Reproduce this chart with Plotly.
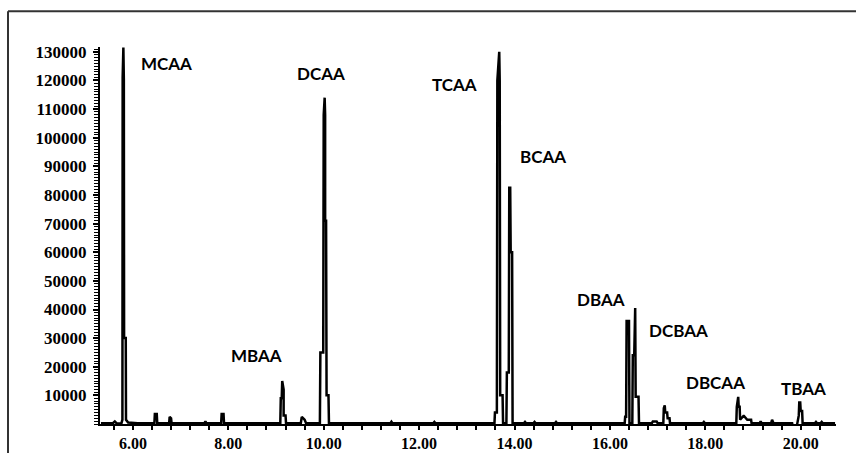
import plotly.graph_objects as go

# Retention time (min) and abundance of the chromatogram trace
time_min = [
    5.33, 5.45, 5.58, 5.62, 5.66, 5.76, 5.78, 5.785, 5.80, 5.81, 5.815, 5.85, 5.855, 5.90,
    6.10, 6.45, 6.46, 6.50, 6.51, 6.76, 6.77, 6.80, 6.81, 7.50, 7.52, 7.54,
    7.85, 7.86, 7.90, 7.91, 9.09, 9.10, 9.12, 9.13, 9.15, 9.16, 9.16, 9.20, 9.21,
    9.52, 9.54, 9.60, 9.63, 9.92, 9.93, 9.99, 10.00, 10.02, 10.03, 10.03, 10.05,
    10.06, 10.10, 10.11, 11.40, 11.42, 11.44, 12.30, 12.32, 12.34,
    13.58, 13.59, 13.63, 13.64, 13.68, 13.69, 13.70, 13.75, 13.76,
    13.83, 13.84, 13.88, 13.89, 13.91, 13.92, 13.95, 13.96, 14.20, 14.22, 14.24, 14.40, 14.42, 14.44,
    14.85, 14.87, 14.89, 16.31, 16.32, 16.34, 16.35, 16.40, 16.41,
    16.47, 16.48, 16.51, 16.53, 16.54, 16.60, 16.61, 16.88, 16.90, 16.98, 17.00,
    17.12, 17.13, 17.15, 17.16, 17.20, 17.21, 17.25, 17.26, 17.95, 17.97, 17.99,
    18.65, 18.66, 18.69, 18.70, 18.72, 18.73, 18.80, 18.81, 18.88, 18.89, 18.96, 18.97,
    19.14, 19.16, 19.18, 19.38, 19.40, 19.43, 19.82, 19.83, 19.92, 19.93,
    19.96, 19.97, 19.99, 20.00, 20.03, 20.04, 20.30, 20.32, 20.34, 20.42, 20.44, 20.46, 20.72,
]
abundance = [
    300, 200, 300, 900, 200, 300, 1500, 121000, 131500, 120500, 30000, 30000, 1500, 500,
    300, 300, 3500, 3500, 300, 300, 2500, 2000, 300, 300, 900, 300,
    300, 3500, 3500, 300, 300, 9000, 9000, 15000, 12000, 12000, 3000, 3000, 300,
    300, 2500, 1500, 300, 300, 25000, 25000, 108000, 114000, 108000, 71000, 71000,
    10000, 10000, 300, 300, 800, 300, 300, 700, 300,
    300, 4000, 4000, 120000, 130000, 120000, 10000, 10000, 300,
    300, 18000, 18000, 82500, 82500, 60000, 60000, 300, 300, 700, 300, 300, 700, 300,
    300, 700, 300, 300, 2500, 2500, 36000, 36000, 300,
    300, 24000, 24000, 40500, 9500, 9500, 300, 300, 900, 900, 300,
    300, 5500, 6500, 4000, 4000, 2000, 2000, 300, 300, 700, 300,
    300, 6000, 9500, 6000, 6000, 1500, 2800, 2800, 1500, 1500, 1500, 300,
    300, 900, 300, 300, 1500, 300, 300, -600, -600, 300,
    3000, 7500, 7500, 4500, 4500, 300, 300, 700, 300, 300, 700, 300, 300,
]

# Peak labels
peak_names = ["MCAA", "DCAA", "TCAA", "BCAA", "MBAA", "DBAA", "DCBAA", "DBCAA", "TBAA"]
label_time = [6.71, 9.94, 12.75, 14.60, 8.60, 15.81, 17.43, 18.22, 20.05]
label_abund = [126000, 122500, 118500, 93500, 24000, 43500, 32500, 14500, 12300]

# Axis ticks
y_tick_vals = [10000, 20000, 30000, 40000, 50000, 60000, 70000, 80000, 90000,
               100000, 110000, 120000, 130000]
x_tick_vals = [6, 8, 10, 12, 14, 16, 18, 20]

LABEL_FONT = "Lato"
TICK_FONT = "Liberation Serif"

fig = go.Figure()
fig.add_trace(go.Scatter(
    x=time_min, y=abundance, mode="lines",
    line=dict(color="black", width=2.5),
    hoverinfo="x+y", showlegend=False,
))

for name, t, a in zip(peak_names, label_time, label_abund):
    fig.add_annotation(
        x=t, y=a, text=name, showarrow=False,
        font=dict(family=LABEL_FONT, size=17, color="black", weight="bold"),
        xanchor="center", yanchor="middle",
    )

# Outer frame (top and left edges)
fig.add_shape(type="line", xref="paper", yref="paper",
              x0=-0.125, x1=1.03, y0=1.095, y1=1.095,
              line=dict(color="#333333", width=2))
fig.add_shape(type="line", xref="paper", yref="paper",
              x0=-0.125, x1=-0.125, y0=1.095, y1=-0.08,
              line=dict(color="#333333", width=2))

fig.update_layout(
    width=856, height=453,
    margin=dict(l=100, r=20, t=47, b=29),
    paper_bgcolor="white", plot_bgcolor="white",
    xaxis=dict(
        range=[5.31, 20.74], automargin=False,
        tickvals=x_tick_vals, tickformat=".2f",
        ticks="outside", ticklen=4, tickwidth=1.5, tickcolor="black",
        ticklabelstandoff=0,
        showline=True, linecolor="black", linewidth=2,
        showgrid=False, zeroline=False,
        tickfont=dict(family=TICK_FONT, size=16, color="black", weight="bold"),
        minor=dict(dtick=0.4, tick0=6, ticks="outside", ticklen=4,
                   tickwidth=1.5, tickcolor="black"),
    ),
    yaxis=dict(
        range=[0, 131700], automargin=False,
        tickvals=y_tick_vals, tickformat="d",
        ticks="outside", ticklen=5, tickwidth=1.5, tickcolor="black",
        ticklabelstandoff=3,
        showline=True, linecolor="black", linewidth=2,
        showgrid=False, zeroline=False,
        tickfont=dict(family=TICK_FONT, size=17, color="black", weight="bold"),
        minor=dict(dtick=1000, tick0=0, ticks="outside", ticklen=4,
                   tickwidth=1, tickcolor="black"),
    ),
)

fig.write_html("out.html")
